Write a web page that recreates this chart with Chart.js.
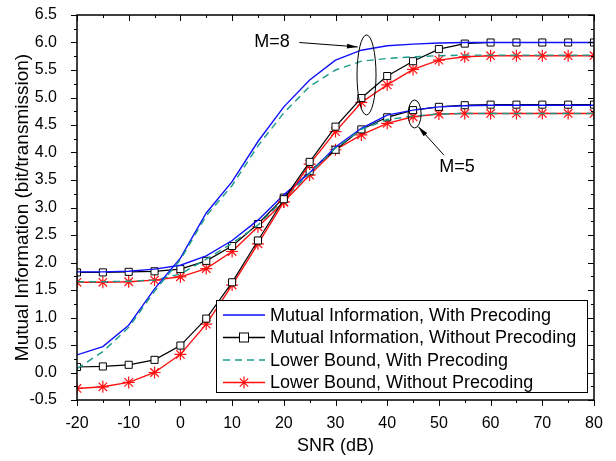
<!DOCTYPE html>
<html>
<head>
<meta charset="utf-8">
<script src="https://cdn.jsdelivr.net/npm/chart.js@4.4.0/dist/chart.umd.min.js"></script>
<style>
  body { margin: 0; background: #fff; }
  #wrap { width: 616px; height: 461px; }
</style>
</head>
<body>
<div id="wrap"><canvas id="chart" width="616" height="461"></canvas></div>
<script>
// SNR in dB
const snr = [-20, -15, -10, -5, 0, 5, 10, 15, 20, 25, 30, 35, 40, 45, 50, 55, 60, 65, 70, 75, 80];

// M=8
const m8MiPre = [0.32, 0.47, 0.86, 1.52, 2.08, 2.90, 3.47, 4.20, 4.83, 5.32, 5.68, 5.86, 5.94, 5.97, 5.99, 6.00, 6.00, 6.00, 6.00, 6.00, 6.00];
const m8MiNo  = [0.10, 0.11, 0.14, 0.23, 0.49, 0.98, 1.64, 2.40, 3.15, 3.83, 4.47, 4.99, 5.39, 5.66, 5.88, 5.98, 6.00, 6.00, 6.00, 6.00, 6.00];
const m8LbPre = [0.07, 0.38, 0.82, 1.48, 2.05, 2.85, 3.40, 4.12, 4.72, 5.20, 5.50, 5.66, 5.71, 5.74, 5.76, 5.77, 5.77, 5.77, 5.77, 5.77, 5.77];
const m8LbNo  = [-0.29, -0.26, -0.18, 0.00, 0.33, 0.88, 1.59, 2.34, 3.10, 3.79, 4.38, 4.91, 5.23, 5.51, 5.68, 5.74, 5.76, 5.76, 5.76, 5.76, 5.76];

// M=5
const m5MiPre = [1.83, 1.83, 1.84, 1.88, 1.95, 2.12, 2.40, 2.77, 3.23, 3.63, 4.10, 4.44, 4.68, 4.77, 4.83, 4.85, 4.86, 4.86, 4.86, 4.86, 4.86];
const m5MiNo  = [1.82, 1.82, 1.83, 1.84, 1.88, 2.03, 2.30, 2.70, 3.18, 3.66, 4.05, 4.42, 4.64, 4.77, 4.83, 4.86, 4.87, 4.87, 4.87, 4.87, 4.87];
const m5LbPre = [1.65, 1.65, 1.66, 1.68, 1.79, 2.06, 2.35, 2.68, 3.15, 3.62, 4.08, 4.42, 4.60, 4.66, 4.70, 4.71, 4.71, 4.71, 4.71, 4.71, 4.71];
const m5LbNo  = [1.64, 1.64, 1.65, 1.68, 1.74, 1.89, 2.20, 2.65, 3.10, 3.59, 4.05, 4.32, 4.53, 4.65, 4.70, 4.71, 4.71, 4.71, 4.71, 4.71, 4.71];

const legendLabels = [
  'Mutual Information, With Precoding',
  'Mutual Information, Without Precoding',
  'Lower Bound, With Precoding',
  'Lower Bound, Without Precoding'
];

const BLUE = '#1010ff';
const TEAL = '#1a9a8a';
const RED = '#ff1010';
const FONT = '"Liberation Sans", Arial, sans-serif';

function pts(ys) {
  return snr.map((x, i) => ({ x: x, y: ys[i] }));
}

function styleFor(kind) {
  if (kind === 0) return { borderColor: BLUE, borderWidth: 1.4, pointRadius: 0 };
  if (kind === 1) return { borderColor: '#000', borderWidth: 1.2, pointStyle: 'rect', pointRadius: 5,
                           pointBackgroundColor: '#fff', pointBorderColor: '#000', pointBorderWidth: 1 };
  if (kind === 2) return { borderColor: TEAL, borderWidth: 1.4, borderDash: [7, 5], pointRadius: 0 };
  return { borderColor: RED, borderWidth: 1.4, pointStyle: 'star', pointRadius: 6,
           pointBorderColor: RED, pointBorderWidth: 1.2 };
}

const datasets = [];
[[m8LbPre, 2], [m8MiPre, 0], [m8MiNo, 1], [m8LbNo, 3],
 [m5LbPre, 2], [m5MiPre, 0], [m5MiNo, 1], [m5LbNo, 3]].forEach(function (d) {
  datasets.push(Object.assign({ data: pts(d[0]), tension: 0, fill: false }, styleFor(d[1])));
});

// frame, ticks, annotations and legend
const decor = {
  id: 'decor',
  afterDatasetsDraw(chart) {
    const ctx = chart.ctx;
    const xs = chart.scales.x, ys = chart.scales.y;
    const a = chart.chartArea;
    ctx.save();
    ctx.strokeStyle = '#000';
    ctx.lineWidth = 1.5;
    ctx.strokeRect(a.left, a.top, a.right - a.left, a.bottom - a.top);

    ctx.lineWidth = 1;
    ctx.beginPath();
    for (let v = -20; v <= 80; v += 5) {
      const px = Math.round(xs.getPixelForValue(v)) + 0.5;
      const len = (v % 10 === 0) ? 6 : 3;
      ctx.moveTo(px, a.bottom); ctx.lineTo(px, a.bottom + len);
      ctx.moveTo(px, a.top); ctx.lineTo(px, a.top + len);
    }
    for (let k = 0; k <= 28; k++) {
      const v = -0.5 + k * 0.25;
      const py = Math.round(ys.getPixelForValue(v)) + 0.5;
      const len = (k % 2 === 0) ? 6 : 3;
      ctx.moveTo(a.left, py); ctx.lineTo(a.left - len, py);
      ctx.moveTo(a.right, py); ctx.lineTo(a.right - len, py);
    }
    ctx.stroke();

    // annotations
    function arrow(x1, y1, x2, y2) {
      ctx.beginPath();
      ctx.moveTo(x1, y1); ctx.lineTo(x2, y2);
      ctx.stroke();
      const ang = Math.atan2(y2 - y1, x2 - x1);
      ctx.beginPath();
      ctx.moveTo(x2, y2);
      ctx.lineTo(x2 - 11 * Math.cos(ang - 0.22), y2 - 11 * Math.sin(ang - 0.22));
      ctx.lineTo(x2 - 11 * Math.cos(ang + 0.22), y2 - 11 * Math.sin(ang + 0.22));
      ctx.closePath();
      ctx.fill();
    }
    ctx.fillStyle = '#000';
    ctx.lineWidth = 1;
    ctx.beginPath();
    ctx.ellipse(xs.getPixelForValue(36.0), ys.getPixelForValue(5.41), 9.5, 40, 0, 0, Math.PI * 2);
    ctx.stroke();
    ctx.beginPath();
    ctx.ellipse(xs.getPixelForValue(45.3), ys.getPixelForValue(4.7), 6.5, 14, 0, 0, Math.PI * 2);
    ctx.stroke();
    arrow(xs.getPixelForValue(23.0), ys.getPixelForValue(6.0), xs.getPixelForValue(34.3), ys.getPixelForValue(5.92));
    arrow(xs.getPixelForValue(51.0), ys.getPixelForValue(3.95), xs.getPixelForValue(46.0), ys.getPixelForValue(4.47));
    ctx.font = '18px ' + FONT;
    ctx.textAlign = 'center';
    ctx.textBaseline = 'middle';
    ctx.fillText('M=8', xs.getPixelForValue(17.7), ys.getPixelForValue(6.0));
    ctx.fillText('M=5', xs.getPixelForValue(53.5), ys.getPixelForValue(3.73));

    // legend
    const lx = 216, ly = 300, lw = 371, lh = 92;
    ctx.fillStyle = '#fff';
    ctx.fillRect(lx, ly, lw, lh);
    ctx.lineWidth = 1;
    ctx.strokeStyle = '#000';
    ctx.strokeRect(lx + 0.5, ly + 0.5, lw, lh);
    ctx.font = '18px ' + FONT;
    ctx.textAlign = 'left';
    const colors = [BLUE, '#000', TEAL, RED];
    for (let i = 0; i < 4; i++) {
      const yy = ly + 15 + i * 22.5;
      ctx.save();
      ctx.strokeStyle = colors[i];
      ctx.lineWidth = 1.4;
      if (i === 2) ctx.setLineDash([7, 5]);
      ctx.beginPath();
      ctx.moveTo(lx + 7, yy); ctx.lineTo(lx + 49, yy);
      ctx.stroke();
      ctx.restore();
      if (i === 1) {
        ctx.fillStyle = '#fff';
        ctx.fillRect(lx + 23, yy - 5, 10, 10);
        ctx.strokeStyle = '#000';
        ctx.strokeRect(lx + 23.5, yy - 4.5, 9, 9);
      }
      if (i === 3) {
        ctx.strokeStyle = RED;
        ctx.lineWidth = 1.2;
        ctx.beginPath();
        const cx = lx + 28, r = 6;
        ctx.moveTo(cx - r, yy); ctx.lineTo(cx + r, yy);
        ctx.moveTo(cx, yy - r); ctx.lineTo(cx, yy + r);
        ctx.moveTo(cx - r * 0.7, yy - r * 0.7); ctx.lineTo(cx + r * 0.7, yy + r * 0.7);
        ctx.moveTo(cx - r * 0.7, yy + r * 0.7); ctx.lineTo(cx + r * 0.7, yy - r * 0.7);
        ctx.stroke();
      }
      ctx.fillStyle = '#000';
      ctx.fillText(legendLabels[i], lx + 54, yy + 1);
    }
    ctx.restore();
  }
};

Chart.defaults.font.family = FONT;
Chart.defaults.color = '#000';

new Chart(document.getElementById('chart'), {
  type: 'line',
  data: { datasets: datasets },
  options: {
    responsive: false,
    animation: false,
    layout: { padding: { top: 15, right: 22, left: 0, bottom: 0 } },
    plugins: { legend: { display: false }, tooltip: { enabled: false } },
    scales: {
      x: {
        type: 'linear', min: -20, max: 80,
        grid: { display: false }, border: { display: false },
        ticks: { stepSize: 10, padding: 6, font: { size: 16 } },
        title: { display: true, text: 'SNR (dB)', font: { size: 18 }, padding: { top: 10 } },
        afterFit(s) { s.height = 61; s.paddingLeft = 0; s.paddingRight = 0; }
      },
      y: {
        type: 'linear', min: -0.5, max: 6.5,
        grid: { display: false }, border: { display: false },
        ticks: { stepSize: 0.5, padding: 12, font: { size: 16 }, callback: v => v.toFixed(1) },
        title: { display: true, text: 'Mutual Information (bit/transmission)', font: { size: 19 }, padding: { top: 11, bottom: 0 } },
        afterFit(s) { s.width = 77; s.paddingTop = 0; s.paddingBottom = 0; }
      }
    }
  },
  plugins: [decor]
});
</script>
</body>
</html>
